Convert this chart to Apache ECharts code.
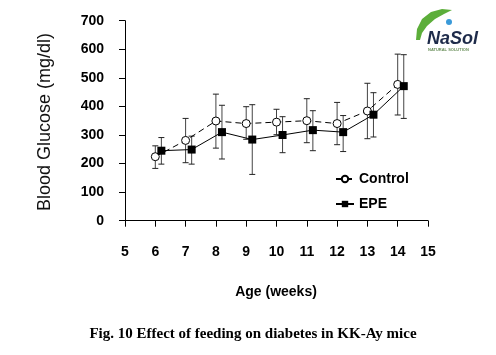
<!DOCTYPE html>
<html>
<head>
<meta charset="utf-8">
<script src="https://cdn.jsdelivr.net/npm/echarts@6/dist/echarts.min.js"></script>
<style>
html,body{margin:0;padding:0;background:#fff;}
#chart{width:496px;height:355px;}
</style>
</head>
<body>
<div id="chart"></div>
<script>
// ---- data ----
var weeks = [6, 7, 8, 9, 10, 11, 12, 13, 14];
var controlMean = [224, 281, 349, 340, 345, 350, 340, 384, 477];
var controlHigh = [262, 358, 443, 399, 390, 427, 414, 481, 583];
var controlLow  = [183, 203, 254, 285, 301, 273, 266, 287, 370];
var epeWeeks = [6.2, 7.2, 8.2, 9.2, 10.2, 11.2, 12.2, 13.2, 14.2];
var epeMean = [245, 249, 310, 284, 300, 317, 310, 371, 471];
var epeHigh = [291, 296, 404, 406, 364, 385, 368, 448, 581];
var epeLow  = [198, 198, 216, 162, 238, 245, 242, 293, 358];
var xTicks = [5, 6, 7, 8, 9, 10, 11, 12, 13, 14, 15];
var yTicks = [0, 100, 200, 300, 400, 500, 600, 700];

function pairs(xs, ys) { return xs.map(function (x, i) { return [x, ys[i]]; }); }
function triples(xs, lo, hi) { return xs.map(function (x, i) { return [x, lo[i], hi[i]]; }); }

function errRender(params, api) {
  var x = api.value(0);
  var lo = api.coord([x, api.value(1)]);
  var hi = api.coord([x, api.value(2)]);
  var w = 3;
  var st = { stroke: '#222', lineWidth: 1 };
  return {
    type: 'group',
    children: [
      { type: 'line', shape: { x1: lo[0], y1: lo[1], x2: hi[0], y2: hi[1] }, style: { stroke: '#444', lineWidth: 1 } },
      { type: 'line', shape: { x1: lo[0] - w, y1: lo[1], x2: lo[0] + w, y2: lo[1] }, style: st },
      { type: 'line', shape: { x1: hi[0] - w, y1: hi[1], x2: hi[0] + w, y2: hi[1] }, style: st }
    ]
  };
}

var chart = echarts.init(document.getElementById('chart'), null, { renderer: 'canvas' });
var labelFont = { color: '#000', fontFamily: 'Liberation Sans, Arial, sans-serif', fontSize: 14, fontWeight: 'bold' };

chart.setOption({
  animation: false,
  backgroundColor: '#fff',
  grid: { left: 125, right: 68, top: 20.7, bottom: 134.3, containLabel: false },
  xAxis: {
    type: 'value', min: xTicks[0], max: xTicks[xTicks.length - 1], interval: 1,
    axisLine: { lineStyle: { color: '#000', width: 1 } },
    axisTick: { show: true, length: 6, lineStyle: { color: '#000' } },
    splitLine: { show: false },
    axisLabel: Object.assign({ margin: 24 }, labelFont)
  },
  yAxis: {
    type: 'value', min: yTicks[0], max: yTicks[yTicks.length - 1], interval: 100,
    axisLine: { show: true, lineStyle: { color: '#000', width: 1 } },
    axisTick: { show: true, length: 6, lineStyle: { color: '#000' } },
    splitLine: { show: false },
    axisLabel: Object.assign({ margin: 21 }, labelFont)
  },
  legend: {
    orient: 'vertical', left: 330, top: 167, itemGap: 11,
    itemWidth: 18, itemHeight: 8,
    textStyle: { color: '#000', fontFamily: 'Liberation Sans, Arial, sans-serif', fontSize: 14, fontWeight: 'bold' },
    data: ['Control', 'EPE']
  },
  series: [
    { name: 'ctrlErr', type: 'custom', renderItem: errRender, data: triples(weeks, controlLow, controlHigh), z: 1, silent: true },
    { name: 'epeErr', type: 'custom', renderItem: errRender, data: triples(epeWeeks, epeLow, epeHigh), z: 1, silent: true },
    {
      name: 'Control', type: 'line', data: pairs(weeks, controlMean), z: 3,
      symbol: 'circle', symbolSize: 8,
      itemStyle: { color: '#fff', borderColor: '#000', borderWidth: 1 },
      lineStyle: { color: '#000', width: 1, type: [6, 4] }
    },
    {
      name: 'EPE', type: 'line', data: pairs(epeWeeks, epeMean), z: 4,
      symbol: 'rect', symbolSize: 8,
      itemStyle: { color: '#000' },
      lineStyle: { color: '#000', width: 1 }
    }
  ],
  graphic: [
    {
      type: 'text', x: 45, y: 122, rotation: Math.PI / 2,
      style: { text: 'Blood Glucose (mg/dl)', fill: '#111', font: '18px "Liberation Sans", Arial, sans-serif', align: 'center', verticalAlign: 'middle' }
    },
    {
      type: 'text', x: 276, y: 292,
      style: { text: 'Age (weeks)', fill: '#000', font: 'bold 14px "Liberation Sans", Arial, sans-serif', align: 'center', verticalAlign: 'middle' }
    },
    {
      type: 'text', x: 253, y: 334,
      style: { text: 'Fig. 10 Effect of feeding on diabetes in KK-Ay mice', fill: '#000', font: 'bold 15px "Liberation Serif", "Times New Roman", serif', align: 'center', verticalAlign: 'middle' }
    },
    {
      type: 'polygon',
      shape: { points: [[416, 40], [417, 29], [422, 19], [431, 12], [442, 9], [452, 10], [444, 14], [435, 19], [427, 26], [422, 33], [420, 40]] },
      style: { fill: '#5cae3a' }
    },
    { type: 'circle', shape: { cx: 449, cy: 22, r: 3 }, style: { fill: '#3a9ad9' } },
    {
      type: 'text', x: 427, y: 39,
      style: { text: 'NaSol', fill: '#1e2b4a', font: 'italic bold 18px "Liberation Sans", Arial, sans-serif', verticalAlign: 'middle' }
    },
    {
      type: 'text', x: 428, y: 50,
      style: { text: 'NATURAL SOLUTION', fill: '#6a8f5a', font: 'bold 4px "Liberation Sans", Arial, sans-serif', verticalAlign: 'middle' }
    }
  ]
});
</script>
</body>
</html>
